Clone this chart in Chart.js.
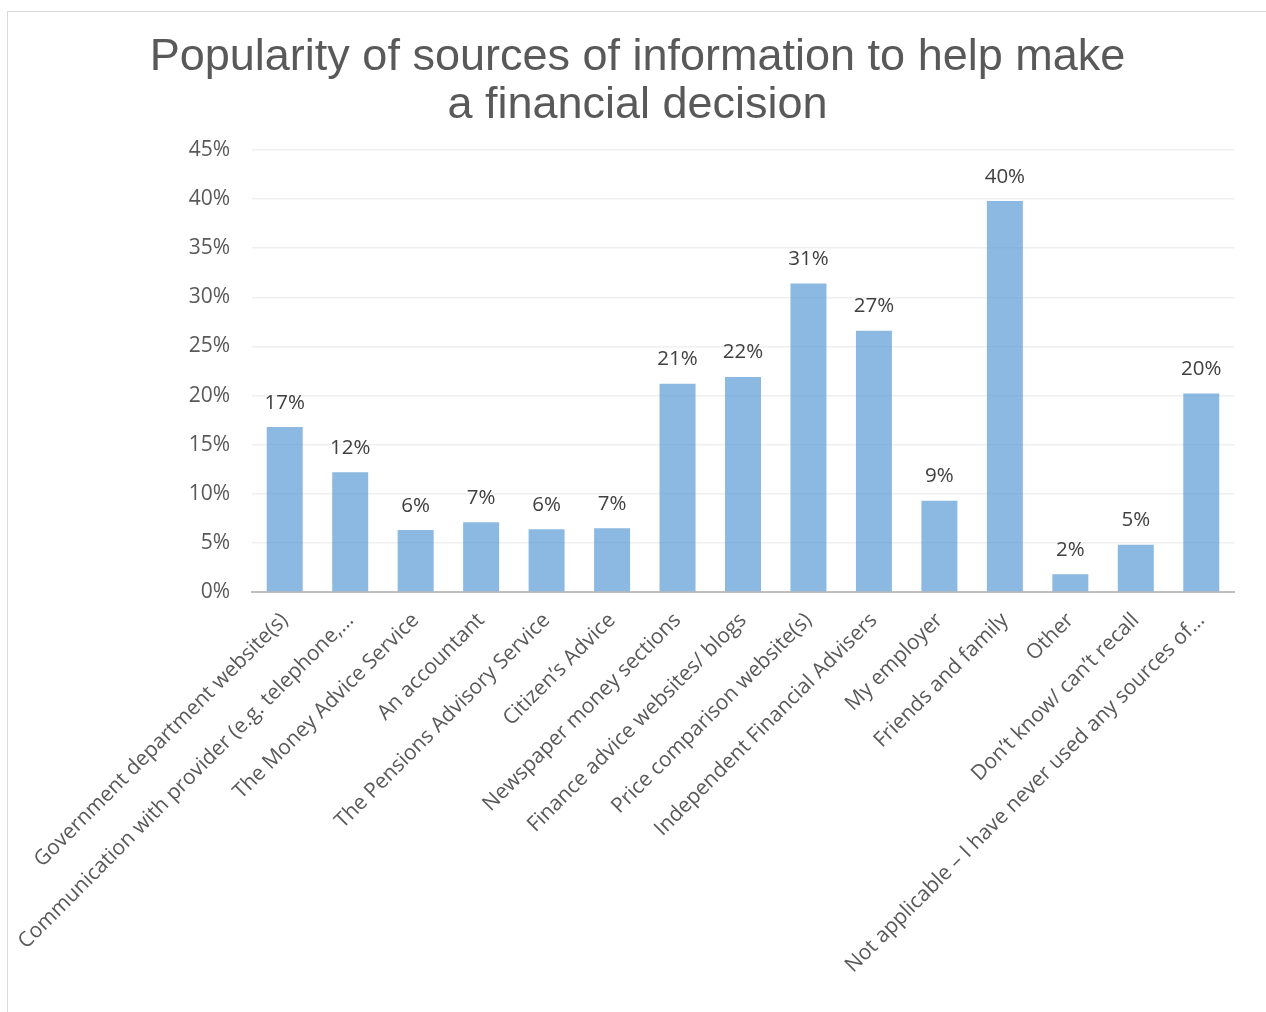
<!DOCTYPE html>
<html>
<head>
<meta charset="utf-8">
<script src="https://cdn.jsdelivr.net/npm/chart.js@4"></script>
<style>
  body { margin: 0; background: #fff; overflow: hidden; }
  #box {
    position: absolute; left: 7px; top: 11px;
    width: 1259px; height: 1001px;
    border-left: 1px solid #d9d9d9; border-top: 1px solid #d9d9d9;
  }
</style>
</head>
<body>
<div id="box"><canvas id="grafica"></canvas></div>
<script>
// categorías y valores (%)
const fuentes = [
  'Government department website(s)',
  'Communication with provider (e.g. telephone,\u2026',
  'The Money Advice Service',
  'An accountant',
  'The Pensions Advisory Service',
  'Citizen\u2019s Advice',
  'Newspaper money sections',
  'Finance advice websites/ blogs',
  'Price comparison website(s)',
  'Independent Financial Advisers',
  'My employer',
  'Friends and family',
  'Other',
  'Don\u2019t know/ can\u2019t recall',
  'Not applicable \u2013 I have never used any sources of\u2026'
];
const porcentajes = [16.8, 12.2, 6.3, 7.1, 6.4, 6.5, 21.2, 21.9, 31.4, 26.6, 9.3, 39.8, 1.8, 4.8, 20.2];
const tituloLineas = ['Popularity of sources of information to help make', 'a financial decision'];

// etiquetas encima de cada barra
const etiquetasBarras = {
  id: 'etiquetasBarras',
  afterDatasetsDraw(chart) {
    const ctx = chart.ctx;
    const meta = chart.getDatasetMeta(0);
    ctx.save();
    ctx.font = '20.5px "Open Sans"';
    ctx.fillStyle = '#404040';
    ctx.textAlign = 'center';
    ctx.textBaseline = 'bottom';
    meta.data.forEach((bar, i) => {
      ctx.fillText(Math.round(porcentajes[i]) + '%', bar.x, bar.y - 14);
    });
    ctx.restore();
  }
};

let ctx = document.getElementById('grafica').getContext('2d');
new Chart(ctx, {
  type: 'bar',
  data: {
    labels: fuentes,
    datasets: [{
      data: porcentajes,
      backgroundColor: 'rgba(91, 155, 213, 0.7)',
      barPercentage: 0.55,
      categoryPercentage: 1
    }]
  },
  options: {
    responsive: true,
    maintainAspectRatio: false,
    animation: false,
    layout: { padding: { top: 10, right: 33, bottom: 0, left: 33 } },
    plugins: {
      legend: { display: false },
      tooltip: { enabled: false },
      title: {
        display: true,
        text: tituloLineas,
        color: '#595959',
        font: { family: '"Liberation Sans", Arial', size: 45, weight: 'normal', lineHeight: 1.0667 },
        padding: { top: 12, bottom: 20 }
      }
    },
    scales: {
      x: {
        grid: { display: false, drawTicks: false },
        border: { color: '#bfbfbf', width: 2 },
        ticks: {
          color: '#595959',
          font: { family: '"Open Sans"', size: 21 },
          maxRotation: 45,
          minRotation: 45,
          autoSkip: false,
          padding: 16
        },
        afterFit(scale) { scale.height = 421; }
      },
      y: {
        min: 0,
        max: 45,
        grid: { color: '#efefef', lineWidth: 1.5, drawTicks: false },
        border: { display: false },
        ticks: {
          stepSize: 5,
          color: '#595959',
          font: { family: '"Open Sans"', size: 21 },
          padding: 22,
          callback: v => v + '%'
        },
        afterFit(scale) { scale.width = 211; }
      }
    }
  },
  plugins: [etiquetasBarras]
});
</script>
</body>
</html>
